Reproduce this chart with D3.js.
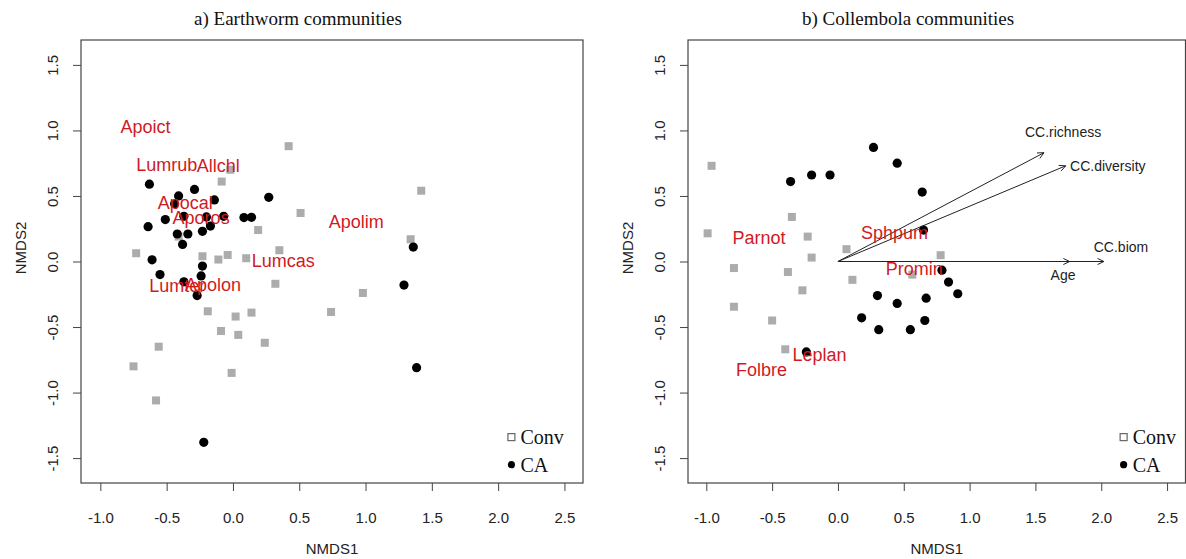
<!DOCTYPE html>
<html>
<head>
<meta charset="utf-8">
<script src="https://cdn.jsdelivr.net/npm/d3@7"></script>
<style>
  body { margin: 0; background: #fff; }
  svg { display: block; }
</style>
</head>
<body>
<div id="chart"></div>
<script>
// tick values shared by both panels
var xTicks = [-1.0, -0.5, 0.0, 0.5, 1.0, 1.5, 2.0, 2.5];
var yTicks = [-1.5, -1.0, -0.5, 0.0, 0.5, 1.0, 1.5];
var groups = ["Conv", "CA"];

// a) earthworm sites [NMDS1, NMDS2]
var ewConv = [[0.42,0.88],[-0.02,0.70],[-0.085,0.61],[0.51,0.37],[0.19,0.24],[0.35,0.086],[-0.73,0.063],
  [-0.41,0.19],[-0.23,0.04],[-0.11,0.015],[-0.04,0.05],[0.10,0.025],[1.42,0.54],[1.34,0.17],[0.32,-0.17],
  [0.98,-0.24],[-0.19,-0.38],[0.02,-0.42],[0.14,-0.39],[0.74,-0.385],[-0.09,-0.53],[0.04,-0.56],[0.24,-0.62],
  [-0.56,-0.65],[-0.75,-0.80],[-0.01,-0.85],[-0.58,-1.06]];
var ewCA = [[-0.63,0.59],[-0.29,0.55],[-0.41,0.50],[-0.14,0.47],[0.27,0.49],[-0.44,0.44],[-0.51,0.32],
  [-0.37,0.345],[-0.2,0.34],[-0.07,0.345],[0.083,0.335],[0.14,0.337],[-0.17,0.27],[-0.64,0.266],[-0.23,0.23],
  [-0.34,0.21],[-0.42,0.21],[-0.38,0.13],[-0.61,0.013],[-0.23,-0.035],[-0.55,-0.10],[-0.24,-0.11],
  [-0.37,-0.155],[-0.27,-0.26],[-0.22,-1.38],[1.36,0.11],[1.29,-0.18],[1.385,-0.81]];
var ewSpecies = ["Apoict","Lumrub","Allchl","Apocal","Aporos","Apolim","Lumcas","Lumter","Apolon"];
var ewSpeciesXY = [[-0.66,1.03],[-0.5,0.74],[-0.11,0.725],[-0.36,0.45],[-0.24,0.33],[0.93,0.30],
  [0.38,0.002],[-0.42,-0.19],[-0.15,-0.18]];

// b) collembola sites
var colConv = [[-0.96,0.73],[-0.35,0.34],[-0.99,0.215],[-0.23,0.19],[0.065,0.094],[-0.2,0.03],[-0.79,-0.05],
  [-0.38,-0.08],[0.11,-0.14],[-0.27,-0.22],[-0.79,-0.345],[-0.5,-0.45],[-0.40,-0.67],[0.565,-0.10],[0.78,0.048]];
var colCA = [[0.27,0.87],[0.45,0.75],[-0.36,0.61],[-0.2,0.66],[-0.06,0.66],[0.64,0.53],[0.65,0.24],
  [0.79,-0.066],[0.84,-0.157],[0.91,-0.246],[0.3,-0.26],[0.45,-0.32],[0.67,-0.28],[0.18,-0.43],
  [0.31,-0.52],[0.55,-0.52],[0.66,-0.45],[-0.24,-0.69]];
var colSpecies = ["Parnot","Sphpum","Promin","Leplan","Folbre"];
var colSpeciesXY = [[-0.6,0.18],[0.43,0.22],[0.58,-0.055],[-0.14,-0.71],[-0.58,-0.83]];

// fitted vectors
var vecNames = ["CC.richness","CC.diversity","CC.biom","Age"];
var vecTips = [[1.565,0.83],[1.73,0.73],[2.02,0.0],[1.76,0.0]];
var vecLabelXY = [[1.71,0.99],[2.05,0.725],[2.15,0.11],[1.71,-0.105]];

var svgWidth = 1186;
var svgHeight = 559;
var sans = "'Liberation Sans', Arial, Helvetica, sans-serif";
var serif = "'Liberation Serif', 'Times New Roman', serif";
var red = "#d11a1f";
var fmt = d => d.toFixed(1);

var svg = d3.select("#chart")
    .append("svg")
    .attr("width", svgWidth)
    .attr("height", svgHeight);

var yScale = d3.scaleLinear()
    .domain([-1.69, 1.69])
    .range([483, 40]);

function drawPanel(opt) {
    var x = d3.scaleLinear().domain(opt.xDomain).range([opt.left, opt.right]);
    var g = svg.append("g");

    // axes
    var bottom = g.append("g")
        .attr("transform", `translate(0,${yScale.range()[0]})`)
        .call(d3.axisBottom(x).tickValues(xTicks).tickFormat(fmt).tickSize(8).tickSizeOuter(0));
    bottom.select(".domain").remove();
    bottom.selectAll("line").attr("stroke", "#444");
    bottom.selectAll("text")
        .attr("y", 35).attr("dy", "0.35em")
        .attr("font-family", sans).attr("font-size", 15).attr("fill", "#222");

    var leftAx = g.append("g")
        .attr("transform", `translate(${opt.left},0)`)
        .call(d3.axisLeft(yScale).tickValues(yTicks).tickFormat(fmt).tickSize(8).tickSizeOuter(0));
    leftAx.select(".domain").remove();
    leftAx.selectAll("line").attr("stroke", "#444");
    leftAx.selectAll("text")
        .attr("x", 0).attr("dy", null)
        .attr("transform", "translate(-29,0) rotate(-90)")
        .attr("text-anchor", "middle")
        .attr("dominant-baseline", "central")
        .attr("font-family", sans).attr("font-size", 15).attr("fill", "#222");

    // box
    g.append("rect")
        .attr("x", opt.left).attr("y", yScale.range()[1])
        .attr("width", opt.right - opt.left)
        .attr("height", yScale.range()[0] - yScale.range()[1])
        .attr("fill", "none").attr("stroke", "#444").attr("stroke-width", 1.2);

    // titles
    g.append("text")
        .attr("x", opt.titleX).attr("y", 18)
        .attr("text-anchor", "middle").attr("dominant-baseline", "central")
        .attr("font-family", serif).attr("font-size", 19).attr("fill", "#111")
        .text(opt.title);
    g.append("text")
        .attr("x", (opt.left + opt.right) / 2).attr("y", 548)
        .attr("text-anchor", "middle").attr("dominant-baseline", "central")
        .attr("font-family", sans).attr("font-size", 15).attr("fill", "#222")
        .text("NMDS1");
    g.append("text")
        .attr("transform", `translate(${opt.left - 61},248) rotate(-90)`)
        .attr("text-anchor", "middle").attr("dominant-baseline", "central")
        .attr("font-family", sans).attr("font-size", 15).attr("fill", "#222")
        .text("NMDS2");

    // grey squares then black circles
    g.selectAll(".conv")
        .data(opt.conv)
        .enter()
        .append("rect")
        .attr("x", d => x(d[0]) - 4)
        .attr("y", d => yScale(d[1]) - 4)
        .attr("width", 8).attr("height", 8)
        .attr("fill", "#acacac");
    g.selectAll(".ca")
        .data(opt.ca)
        .enter()
        .append("circle")
        .attr("cx", d => x(d[0]))
        .attr("cy", d => yScale(d[1]))
        .attr("r", 4.6)
        .attr("fill", "#000");

    // vectors
    if (opt.vectors) {
        opt.vectors.forEach(function(tip) {
            var x1 = x(0), y1 = yScale(0), x2 = x(tip[0]), y2 = yScale(tip[1]);
            var a = Math.atan2(y2 - y1, x2 - x1), L = 7, w = 0.45;
            g.append("path")
                .attr("d", `M${x1},${y1}L${x2},${y2}` +
                    `M${x2 - L * Math.cos(a - w)},${y2 - L * Math.sin(a - w)}L${x2},${y2}` +
                    `L${x2 - L * Math.cos(a + w)},${y2 - L * Math.sin(a + w)}`)
                .attr("fill", "none").attr("stroke", "#222").attr("stroke-width", 1);
        });
        g.selectAll(".vlab")
            .data(vecNames)
            .enter()
            .append("text")
            .attr("x", (d, i) => x(vecLabelXY[i][0]))
            .attr("y", (d, i) => yScale(vecLabelXY[i][1]))
            .attr("text-anchor", "middle").attr("dominant-baseline", "central")
            .attr("font-family", sans).attr("font-size", 14).attr("fill", "#222")
            .text(d => d);
    }

    // species names
    g.selectAll(".sp")
        .data(opt.species)
        .enter()
        .append("text")
        .attr("x", (d, i) => x(opt.speciesXY[i][0]))
        .attr("y", (d, i) => yScale(opt.speciesXY[i][1]))
        .attr("text-anchor", "middle").attr("dominant-baseline", "central")
        .attr("font-family", sans).attr("font-size", 18).attr("fill", red)
        .text(d => d);

    // legend
    var lx = x(opt.legendX);
    g.append("rect")
        .attr("x", lx - 3.5).attr("y", yScale(-1.34) - 3.5)
        .attr("width", 7).attr("height", 7)
        .attr("fill", "#fff").attr("stroke", "#666").attr("stroke-width", 1.2);
    g.append("circle")
        .attr("cx", lx).attr("cy", yScale(-1.55))
        .attr("r", 3.6).attr("fill", "#000");
    g.selectAll(".leg")
        .data(groups)
        .enter()
        .append("text")
        .attr("x", lx + 9)
        .attr("y", (d, i) => yScale(i === 0 ? -1.34 : -1.55))
        .attr("dominant-baseline", "central")
        .attr("font-family", serif).attr("font-size", 20).attr("fill", "#111")
        .text(d => d);
}

drawPanel({
    left: 81, right: 583, xDomain: [-1.146, 2.64], titleX: 298,
    title: "a) Earthworm communities",
    conv: ewConv, ca: ewCA, species: ewSpecies, speciesXY: ewSpeciesXY,
    legendX: 2.10
});

drawPanel({
    left: 688, right: 1185.5, xDomain: [-1.139, 2.64], titleX: 908,
    title: "b) Collembola communities",
    conv: colConv, ca: colCA, species: colSpecies, speciesXY: colSpeciesXY,
    vectors: vecTips, legendX: 2.17
});
</script>
</body>
</html>
